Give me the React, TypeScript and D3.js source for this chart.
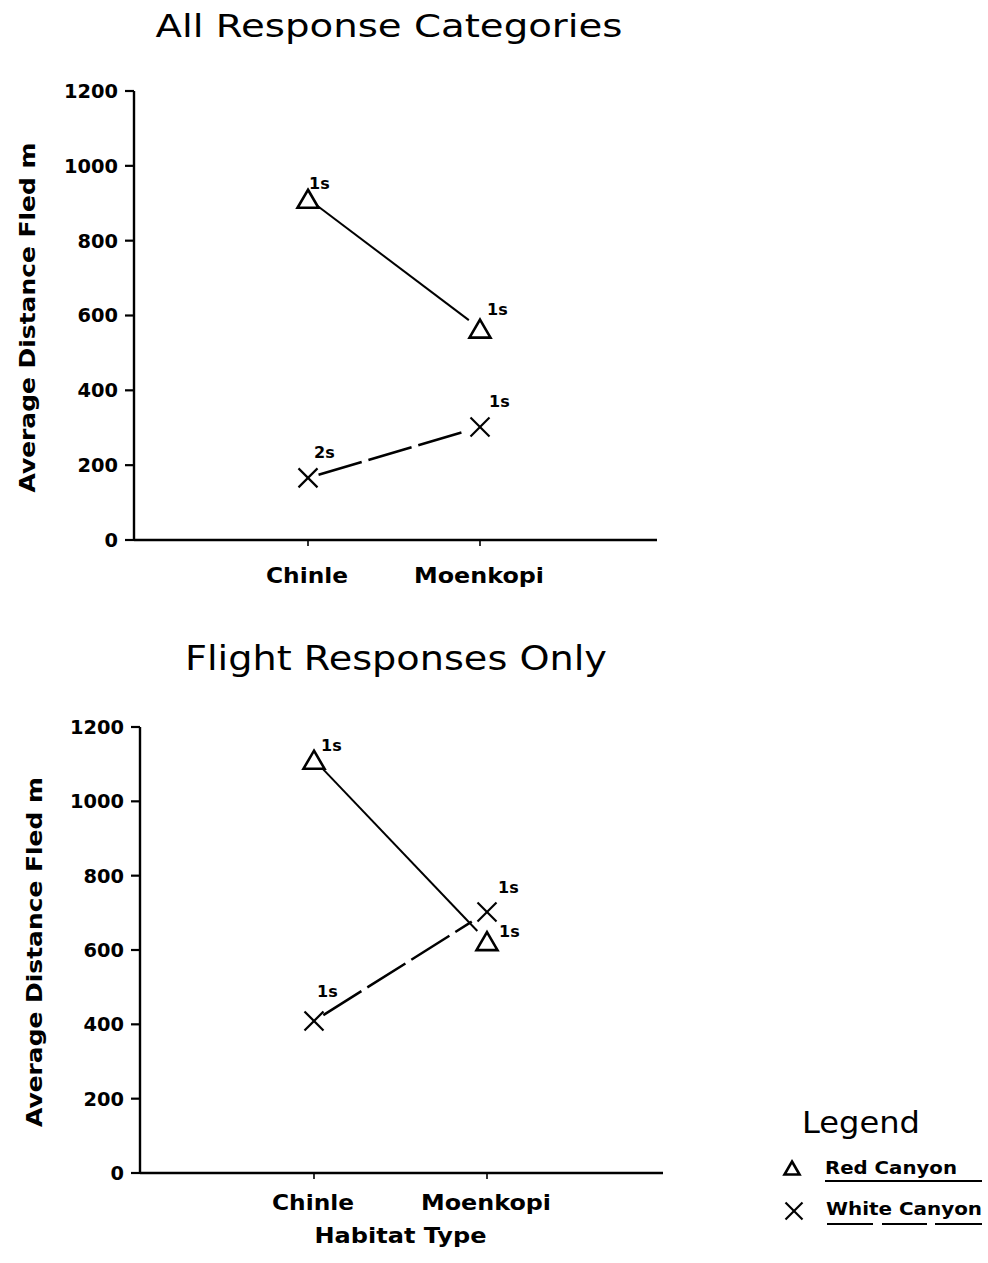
import React from "react";
import * as d3 from "d3";

const categories = ["Chinle", "Moenkopi"];
const yTicks = [0, 200, 400, 600, 800, 1000, 1200];

// Panel 1: All Response Categories
const allRed = [912, 565];
const allWhite = [166, 302];
const allRedN = ["1s", "1s"];
const allWhiteN = ["2s", "1s"];

// Panel 2: Flight Responses Only
const flightRed = [1112, 624];
const flightWhite = [409, 702];
const flightRedN = ["1s", "1s"];
const flightWhiteN = ["1s", "1s"];

const FONT = "'DejaVu Sans', sans-serif";

type PanelProps = {
  title: string;
  titleX: number;
  titleY: number;
  titleSize: number;
  titleLen: number;
  x0: number;
  x1: number;
  scaleStart: number;
  step: number;
  yBottom: number;
  yTop: number;
  red: number[];
  white: number[];
  redN: string[];
  whiteN: string[];
  redOff: number[][];
  whiteOff: number[][];
  yLabelX: number;
  catBaseline: number;
  xTitle?: string;
};

function Triangle({ cx, cy, w, h }: { cx: number; cy: number; w: number; h: number }) {
  const p = d3.path();
  p.moveTo(cx, cy - h / 2);
  p.lineTo(cx + w / 2, cy + h / 2);
  p.lineTo(cx - w / 2, cy + h / 2);
  p.closePath();
  return <path d={p.toString()} fill="none" stroke="#000" strokeWidth={2.6} strokeLinejoin="miter" />;
}

function Cross({ cx, cy, r }: { cx: number; cy: number; r: number }) {
  return (
    <g stroke="#000" strokeWidth={2.2}>
      <line x1={cx - r} y1={cy - r} x2={cx + r} y2={cy + r} />
      <line x1={cx - r} y1={cy + r} x2={cx + r} y2={cy - r} />
    </g>
  );
}

function shortened(ax: number, ay: number, bx: number, by: number, g0: number, g1: number) {
  const dx = bx - ax, dy = by - ay;
  const L = Math.sqrt(dx * dx + dy * dy);
  const ux = dx / L, uy = dy / L;
  return { x1: ax + ux * g0, y1: ay + uy * g0, x2: bx - ux * g1, y2: by - uy * g1 };
}

function Panel(props: PanelProps) {
  const x = d3.scalePoint<string>().domain(categories)
    .range([props.scaleStart, props.scaleStart + 3 * props.step]).padding(1);
  const y = d3.scaleLinear().domain([0, 1200]).range([props.yBottom, props.yTop]);
  const axisX = props.x0;
  const redPts = props.red.map((v, i) => [x(categories[i]) as number, y(v)]);
  const whitePts = props.white.map((v, i) => [x(categories[i]) as number, y(v)]);
  const rl = shortened(redPts[0][0], redPts[0][1], redPts[1][0], redPts[1][1], 12, 14);
  const wl = shortened(whitePts[0][0], whitePts[0][1], whitePts[1][0], whitePts[1][1], 11, 18);
  const yMid = (y(0) + y(1200)) / 2 + 2;
  return (
    <g fontFamily={FONT}>
      <text x={props.titleX} y={props.titleY} fontSize={props.titleSize} textAnchor="middle"
        textLength={props.titleLen} lengthAdjust="spacingAndGlyphs">{props.title}</text>
      {/* axes */}
      <line x1={axisX} y1={y(1200)} x2={axisX} y2={y(0)} stroke="#000" strokeWidth={2.4} />
      <line x1={axisX} y1={y(0)} x2={props.x1} y2={y(0)} stroke="#000" strokeWidth={2.4} />
      {yTicks.map((t) => (
        <g key={t}>
          <line x1={axisX - 9} x2={axisX} y1={y(t)} y2={y(t)} stroke="#000" strokeWidth={2.2} />
          <text x={axisX - 16} y={y(t)} dy="0.36em" textAnchor="end" fontSize={19} fontWeight="bold"
            textLength={String(t).length * 13.5} lengthAdjust="spacingAndGlyphs">{t}</text>
        </g>
      ))}
      {categories.map((c) => (
        <g key={c}>
          <line x1={x(c)} x2={x(c)} y1={y(0)} y2={y(0) + 6} stroke="#000" strokeWidth={1.6} />
          <text x={(x(c) as number) - 1} y={props.catBaseline} textAnchor="middle" fontSize={22} fontWeight="bold"
            textLength={c === "Chinle" ? 82 : 130} lengthAdjust="spacingAndGlyphs">{c}</text>
        </g>
      ))}
      {props.xTitle && (
        <text x={((x(categories[0]) as number) + (x(categories[1]) as number)) / 2} y={props.catBaseline + 33}
          textAnchor="middle" fontSize={22} fontWeight="bold" textLength={172} lengthAdjust="spacingAndGlyphs">{props.xTitle}</text>
      )}
      <text transform={`translate(${props.yLabelX},${yMid}) rotate(-90)`} textAnchor="middle" fontSize={22}
        fontWeight="bold" textLength={350} lengthAdjust="spacingAndGlyphs">Average Distance Fled m</text>
      {/* series lines */}
      <line {...rl} stroke="#000" strokeWidth={2} />
      <line {...wl} stroke="#000" strokeWidth={2.5} strokeDasharray="45 7" />
      {/* markers */}
      {redPts.map((p, i) => (
        <g key={"r" + i}>
          <Triangle cx={p[0]} cy={p[1]} w={21} h={18} />
          <text x={p[0] + props.redOff[i][0]} y={p[1] + props.redOff[i][1]} fontSize={16} fontWeight="bold">{props.redN[i]}</text>
        </g>
      ))}
      {whitePts.map((p, i) => (
        <g key={"w" + i}>
          <Cross cx={p[0]} cy={p[1]} r={9.5} />
          <text x={p[0] + props.whiteOff[i][0]} y={p[1] + props.whiteOff[i][1]} fontSize={16} fontWeight="bold">{props.whiteN[i]}</text>
        </g>
      ))}
    </g>
  );
}

export default function App() {
  return (
    <svg width={988} height={1263} style={{ position: "absolute", left: 0, top: 0, background: "#fff" }}>
      <rect x={0} y={0} width={988} height={1263} fill="#fff" />
      <Panel title="All Response Categories" titleX={389} titleY={37} titleSize={32} titleLen={467}
        x0={134} x1={657} scaleStart={136} step={172} yBottom={540} yTop={91}
        red={allRed} white={allWhite} redN={allRedN} whiteN={allWhiteN}
        redOff={[[1, -10], [7, -14]]} whiteOff={[[6, -20], [9, -20]]}
        yLabelX={35} catBaseline={583} />
      <Panel title="Flight Responses Only" titleX={396} titleY={670} titleSize={34} titleLen={422}
        x0={140} x1={663} scaleStart={141} step={173} yBottom={1173} yTop={727}
        red={flightRed} white={flightWhite} redN={flightRedN} whiteN={flightWhiteN}
        redOff={[[7, -9], [12, -4]]} whiteOff={[[3, -24], [11, -19]]}
        yLabelX={42} catBaseline={1210} xTitle="Habitat Type" />
      {/* legend */}
      <g fontFamily={FONT}>
        <text x={802} y={1133} fontSize={30} textLength={118} lengthAdjust="spacingAndGlyphs">Legend</text>
        <Triangle cx={792} cy={1168} w={15} h={13} />
        <text x={825} y={1174} fontSize={18} fontWeight="bold" textLength={132} lengthAdjust="spacingAndGlyphs">Red Canyon</text>
        <line x1={825} x2={982} y1={1181} y2={1181} stroke="#000" strokeWidth={2} />
        <Cross cx={794} cy={1211} r={8.5} />
        <text x={826} y={1215} fontSize={18} fontWeight="bold" textLength={156} lengthAdjust="spacingAndGlyphs">White Canyon</text>
        <line x1={827} x2={873} y1={1224} y2={1224} stroke="#000" strokeWidth={2} />
        <line x1={882} x2={927} y1={1224} y2={1224} stroke="#000" strokeWidth={2} />
        <line x1={935} x2={982} y1={1224} y2={1224} stroke="#000" strokeWidth={2} />
      </g>
    </svg>
  );
}
